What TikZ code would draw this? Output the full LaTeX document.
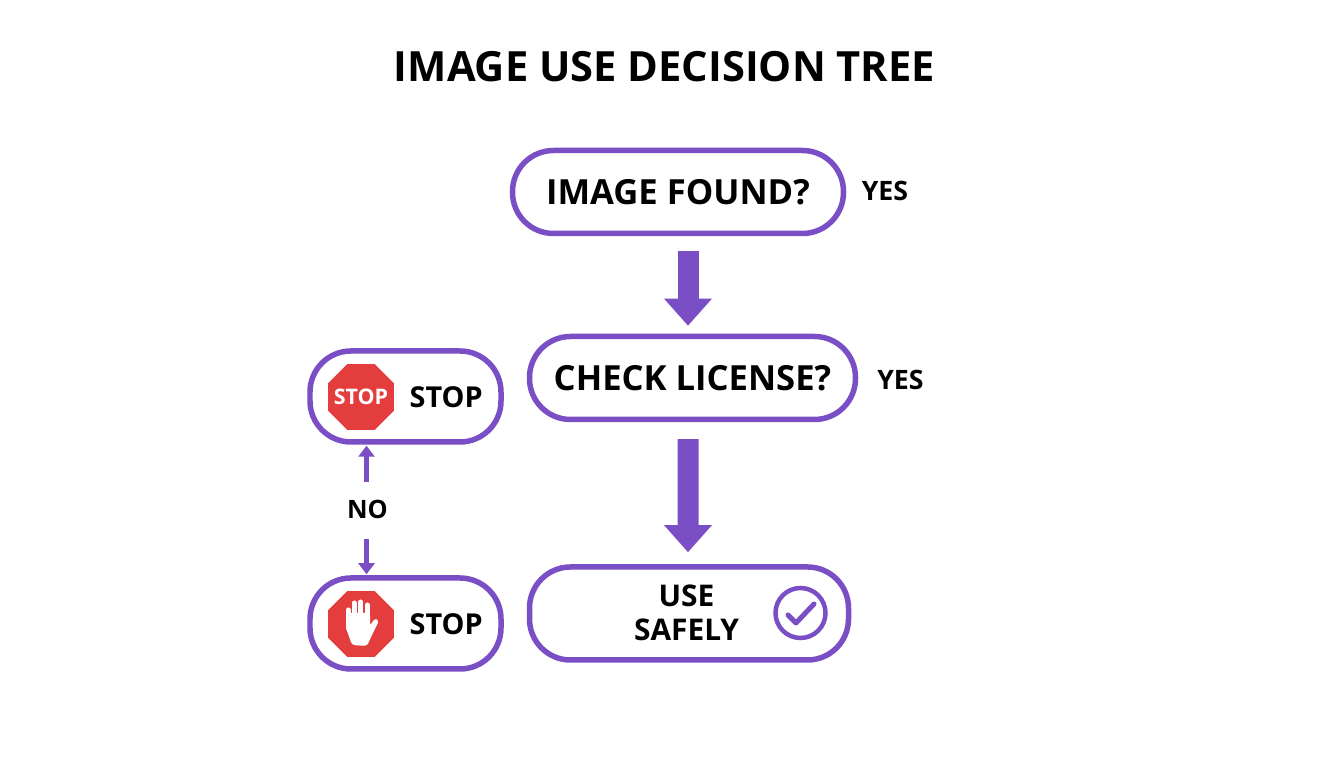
\documentclass[tikz,border=0pt]{standalone}
\usepackage{fontspec}
\setmainfont{Open Sans}
\usetikzlibrary{arrows.meta,positioning,shapes.geometric}
\definecolor{boxpurple}{HTML}{7A4FC6}
\definecolor{stopred}{HTML}{E43D3D}
\newcommand{\fsize}[1]{\fontsize{#1}{#1}\selectfont\bfseries}
\tikzset{
  decision/.style={draw=boxpurple,line width=.055cm,rounded corners=.41cm,inner sep=0pt,font=\fsize{9.85}},
  stopbox/.style={decision,minimum width=1.91cm,minimum height=.91cm},
  bigarrow/.style={draw=boxpurple,line width=.21cm,-{Triangle[width=.46cm,length=.27cm]}},
  smallarrow/.style={draw=boxpurple,line width=.055cm,-{Triangle[width=.16cm,length=.11cm]}},
  octagon/.style={regular polygon,regular polygon sides=8,fill=stopred,minimum size=.714cm,inner sep=0pt},
  sidelabel/.style={inner sep=0pt,font=\fsize{7.6}},
  stoplabel/.style={inner sep=0pt,font=\fsize{8.2}}
}
\begin{document}
\begin{tikzpicture}
  \useasboundingbox (0,0) rectangle (13.44,7.68);
  \node [inner sep=0pt,font=\fsize{11.85}] (title) at (6.645,7.015) {IMAGE USE DECISION TREE};
  % main column
  \node [decision,minimum width=3.31cm,minimum height=.83cm] (found) at (6.78,5.76) {IMAGE FOUND?};
  \node [decision,minimum width=3.26cm,minimum height=.83cm] (check) at (6.925,3.90) {CHECK LICENSE?};
  \node [decision,minimum width=3.19cm,minimum height=.93cm] (use) at (6.89,1.545) {};
  \node [inner sep=0pt,font=\fsize{8.5},align=center] (safe) at (6.865,1.55) {USE\\[.04cm]SAFELY};
  \node [sidelabel] (yesa) at (8.85,5.77) {YES};
  \node [sidelabel] (yesb) at (9.005,3.885) {YES};
  \draw [bigarrow,shorten <=.15cm,shorten >=.08cm] ([xshift=.1cm]found.south) -- ([xshift=-.045cm]check.north);
  \draw [bigarrow,shorten <=.17cm,shorten >=.12cm] ([xshift=-.045cm]check.south) -- ([xshift=-.01cm]use.north);
  % left column
  \node [stopbox] (stopa) at (4.055,3.715) {};
  \node [stopbox] (stopb) at (4.055,1.445) {};
  \node [octagon] (signa) at (3.61,3.71) {};
  \node [font=\fsize{6.1},text=white,inner sep=0pt] (signtext) at (signa) {STOP};
  \node [octagon] (signb) at (3.61,1.44) {};
  \node [stoplabel,anchor=west] (stoptexta) at (4.09,3.71) {STOP};
  \node [stoplabel,anchor=west] (stoptextb) at (4.09,1.44) {STOP};
  \node [inner sep=0pt,font=\fsize{7.2}] (no) at (3.675,2.59) {NO};
  \draw [smallarrow,shorten <=.17cm,shorten >=.01cm] ([xshift=-.01cm]no.north) -- ([xshift=-.01cm]no.north |- stopa.south);
  \draw [smallarrow,shorten <=.2cm,shorten >=.01cm] ([xshift=-.01cm]no.south) -- ([xshift=-.01cm]no.south |- stopb.north);
  % hand
  \fill [white,rounded corners=.03cm] (3.46,1.55) -- (3.46,1.40) -- (3.52,1.23) -- (3.67,1.22) -- (3.72,1.33) -- (3.79,1.47) -- (3.75,1.50) -- (3.70,1.42) -- (3.70,1.55) -- cycle;
  \foreach \fx/\fy in {3.483/1.58,3.54/1.65,3.607/1.66,3.673/1.63}
    \draw [white,line width=.05cm,line cap=round] (\fx,1.4) -- (\fx,\fy);
  % check mark
  \node [circle,draw=boxpurple,line width=.045cm,minimum size=.5cm,inner sep=0pt] (tick) at (8.005,1.55) {};
  \draw [boxpurple,line width=.05cm,line cap=round,line join=round] (7.88,1.53) -- (7.96,1.45) -- (8.14,1.64);
\end{tikzpicture}
\end{document}
